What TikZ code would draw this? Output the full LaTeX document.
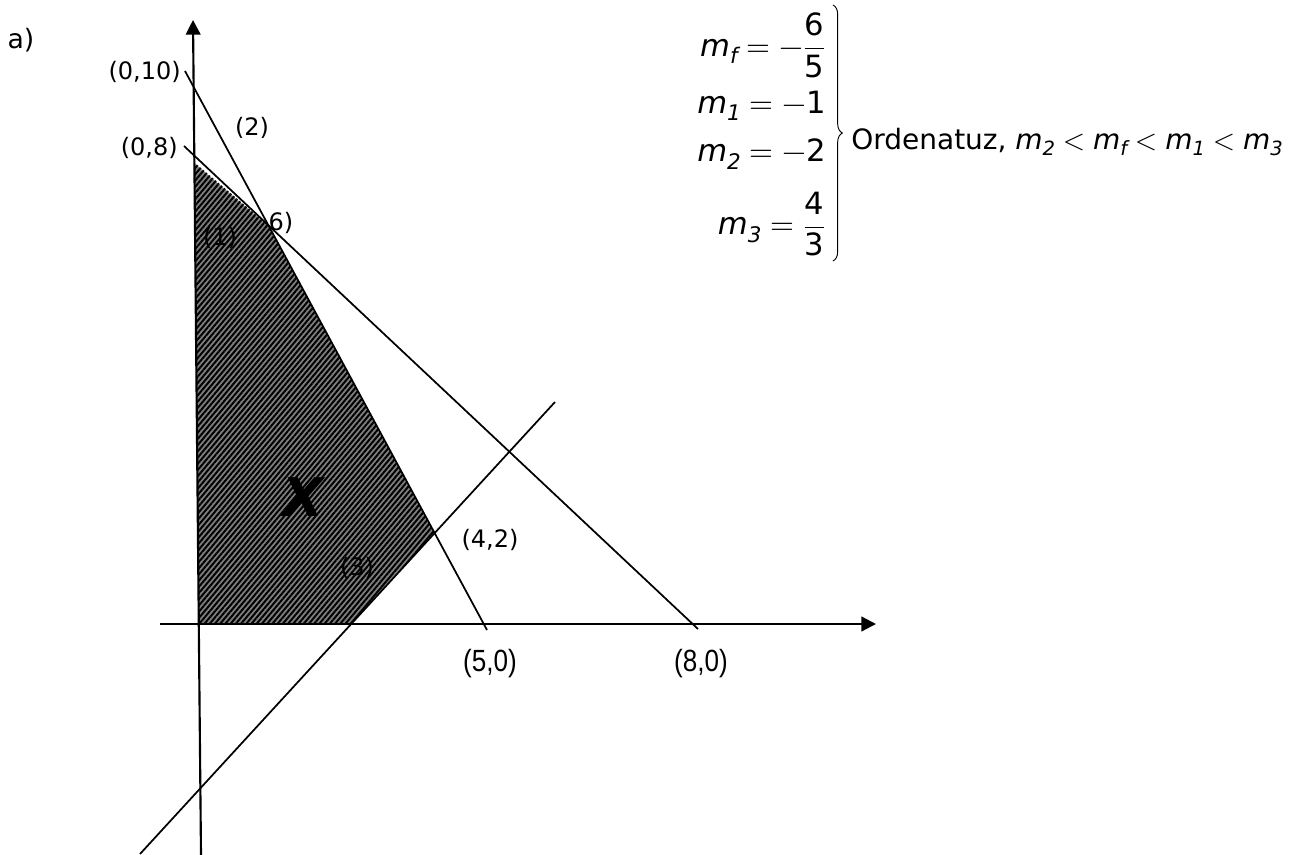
\documentclass[tikz,border=0pt]{standalone}
\usepackage{amsmath}
\usepackage{unicode-math}
\setmainfont{DejaVu Sans}
\newfontfamily\narrowfont{Liberation Sans}
\usetikzlibrary{arrows.meta,patterns.meta,decorations.pathreplacing}
\newcommand\slope[1]{\textit{m}_{\textit{#1}}}

\begin{document}
\begin{tikzpicture}[
  x=0.75pt, y=-0.75pt,
  axis/.style={line width=1.6pt, -{Triangle[length=11pt,width=11pt]}},
  bound/.style={line width=1.3pt},
  region/.style={fill=black!50, draw=white, line width=0.8pt,
    postaction={pattern={Lines[angle=50,distance=3pt,line width=1.5pt]}, pattern color=black}},
  lbl/.style={font=\fontsize{18}{21}\selectfont, inner sep=0pt},
  cut/.style={font=\narrowfont\fontsize{23}{26}\selectfont, xscale=0.85, inner sep=0pt},
  bigmark/.style={font=\bfseries\itshape\fontsize{40}{44}\selectfont, inner sep=0pt},
  eqn/.style={font=\fontsize{23}{27}\selectfont, inner sep=0pt, anchor=east},
  note/.style={font=\fontsize{21}{25}\selectfont, inner sep=0pt}
]
\useasboundingbox (0,0) rectangle (1302,855);

% axes and constraint lines
\coordinate (yb) at (201,855);
\coordinate (yt) at (193,20);
\coordinate (xl) at (160,624);
\coordinate (xr) at (876,624);
\coordinate (l1a) at (184,146);
\coordinate (l1b) at (698,629);
\coordinate (l2a) at (185,71);
\coordinate (l2b) at (487,630);
\coordinate (l3a) at (140,854);
\coordinate (l3b) at (555,402);

% feasible region X
\coordinate (p1) at (intersection of yb--yt and l1a--l1b);
\coordinate (p2) at (intersection of l1a--l1b and l2a--l2b);
\coordinate (p3) at (intersection of l2a--l2b and l3a--l3b);
\coordinate (p4) at (intersection of l3a--l3b and xl--xr);
\coordinate (p5) at (intersection of yb--yt and xl--xr);
\path[region] ([yshift=-5pt]p1) -- (p2) -- (p3) -- (p4) -- (p5) -- cycle;

\draw[bound] (l1a) -- (l1b);
\draw[bound] (l2a) -- (l2b);
\draw[bound] (l3a) -- (l3b);
\draw[axis] (yb) -- (yt);
\draw[axis] (xl) -- (xr);

\node[lbl, font=\fontsize{20}{24}\selectfont] (parta) at (21,40) {a)};
\node[lbl, anchor=east] (y10) at (181,72) {(0,10)};
\node[lbl, anchor=east] (y8) at (178,148) {(0,8)};
\begin{scope}
  \clip (225,105) rectangle (280,138);
  \node[lbl] (n2) at (252,128) {(2)};
\end{scope}
\node[lbl] (n1) at (220,238) {(1)};
\node[lbl] (n6) at (281,223) {6)};
\node[bigmark] (xmark) at (303,497) {X};
\node[lbl] (n3) at (357,568) {(3)};
\node[lbl] (v42) at (490,540) {(4,2)};
\node[cut] (v50) at (490,664) {(5,0)};
\node[cut] (v80) at (701,664) {(8,0)};

% slopes
\node[eqn] (mf) at (826,45) {$\slope{f} = -\dfrac{\text{6}}{\text{5}}$};
\node[eqn] (m1) at (826,106) {$\slope{1} = -\text{1}$};
\node[eqn] (m2) at (826,154) {$\slope{2} = -\text{2}$};
\node[eqn] (m3) at (826,224) {$\slope{3} = \dfrac{\text{4}}{\text{3}}$};
\coordinate (bt) at (833,5);
\coordinate (bb) at (833,261);
\draw[decorate, decoration={brace, amplitude=7pt}, line width=0.7pt] (bt) -- (bb);
\node[note, anchor=west] (order) at (851,142)
  {Ordenatuz, $\slope{2} < \slope{f} < \slope{1} < \slope{3}$};

\end{tikzpicture}
\end{document}
